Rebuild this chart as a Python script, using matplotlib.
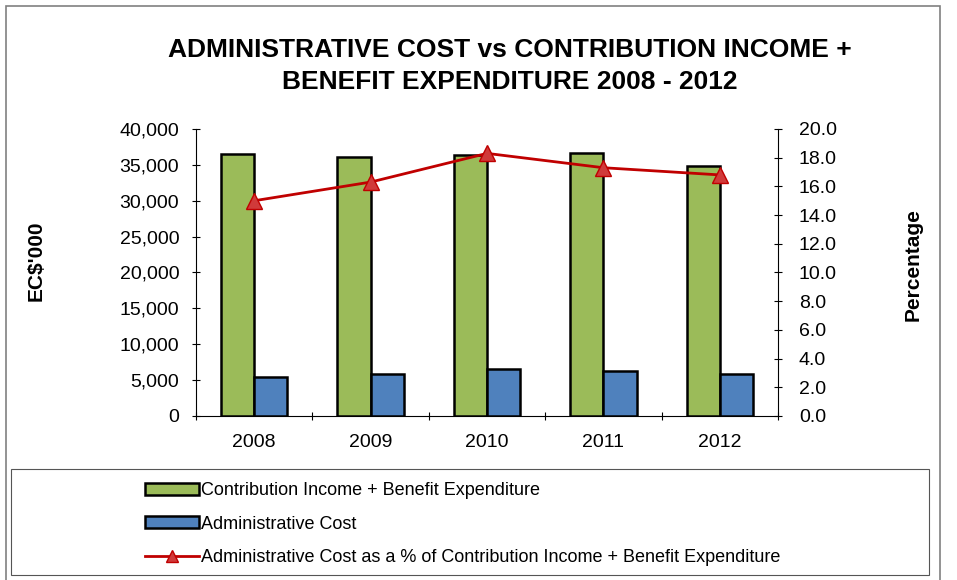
import numpy as np
import matplotlib
matplotlib.use('Agg')
import matplotlib.pyplot as plt
from matplotlib.patches import Rectangle, Patch
from matplotlib.lines import Line2D

plt.rcParams['font.family'] = ['Liberation Sans', 'DejaVu Sans']

years = ['2008', '2009', '2010', '2011', '2012']
contrib_benefit = [36500, 36100, 36400, 36700, 34900]
admin_cost = [5400, 5850, 6600, 6300, 5800]
admin_pct = [15.0, 16.3, 18.3, 17.3, 16.8]

green = '#9BBB59'
blue = '#4F81BD'
red = '#C00000'

fig = plt.figure(figsize=(9.57, 5.80), dpi=100)
ax = fig.add_axes([0.2048, 0.2828, 0.6082, 0.4948])
ax2 = ax.twinx()

x = np.arange(len(years))
w = 0.285
ax.bar(x - w / 2, contrib_benefit, w, color=green, edgecolor='black', linewidth=1.8, zorder=3)
ax.bar(x + w / 2, admin_cost, w, color=blue, edgecolor='black', linewidth=1.8, zorder=3)
ax2.plot(x, admin_pct, color=red, linewidth=2, marker='^', markersize=11,
         markerfacecolor='#D03A3A', markeredgecolor=red, zorder=4)

ax.set_xlim(-0.5, len(years) - 0.5)
ax.set_ylim(0, 40000)
ax.set_yticks(np.arange(0, 40001, 5000))
ax.set_yticklabels(['{:,}'.format(v) for v in range(0, 40001, 5000)])
ax2.set_ylim(0, 20)
ax2.set_yticks(np.arange(0, 20.1, 2))
ax2.set_yticklabels(['{:.1f}'.format(v) for v in np.arange(0, 20.1, 2)])

ax.set_xticks(x)
ax.set_xticklabels(years)
ax.set_xticks(np.arange(-0.5, len(years)), minor=True)
ax.tick_params(axis='x', which='major', length=0, labelsize=14, pad=13)
ax.tick_params(axis='x', which='minor', length=6, direction='inout', width=0.8)
ax.tick_params(axis='y', length=6, direction='inout', labelsize=14, width=0.8, pad=9)
ax2.tick_params(axis='y', length=6, direction='inout', labelsize=14, width=0.8, pad=12)

for a in (ax, ax2):
    a.spines['top'].set_visible(False)
    for s in ('left', 'right', 'bottom'):
        a.spines[s].set_linewidth(0.8)
ax.spines['right'].set_visible(False)
ax2.spines['left'].set_visible(False)
ax2.spines['bottom'].set_visible(False)

fig.text(0.038, 0.551, "EC$'000", rotation=90, ha='center', va='center',
         fontsize=15, fontweight='bold')
fig.text(0.954, 0.543, 'Percentage', rotation=90, ha='center', va='center',
         fontsize=15, fontweight='bold')

fig.text(0.533, 0.914, 'ADMINISTRATIVE COST vs CONTRIBUTION INCOME +',
         ha='center', va='center', fontsize=19, fontweight='bold')
fig.text(0.533, 0.859, 'BENEFIT EXPENDITURE 2008 - 2012',
         ha='center', va='center', fontsize=19, fontweight='bold')

# outer chart border and legend box
fig.add_artist(Rectangle((6 / 957, -0.01), 934 / 957, 1 - 6 / 580 + 0.01,
                         transform=fig.transFigure, fill=False,
                         edgecolor='#808080', linewidth=1.2))
fig.add_artist(Rectangle((11 / 957, 5 / 580), 918 / 957, 106 / 580,
                         transform=fig.transFigure, fill=False,
                         edgecolor='#555555', linewidth=0.8))

handles = [
    Patch(facecolor=green, edgecolor='black', linewidth=1.8),
    Patch(facecolor=blue, edgecolor='black', linewidth=1.8),
    Line2D([], [], color=red, linewidth=2, marker='^', markersize=9,
           markerfacecolor='#D03A3A', markeredgecolor=red),
]
labels = ['Contribution Income + Benefit Expenditure',
          'Administrative Cost',
          'Administrative Cost as a % of Contribution Income + Benefit Expenditure']
fig.legend(handles, labels, loc='upper left', bbox_to_anchor=(136 / 957, 1 - 473 / 580),
           frameon=False, fontsize=13, handlelength=3.0, handleheight=0.65,
           handletextpad=0.12, labelspacing=0.92, borderpad=0)

fig.savefig('out.png', dpi=100)
